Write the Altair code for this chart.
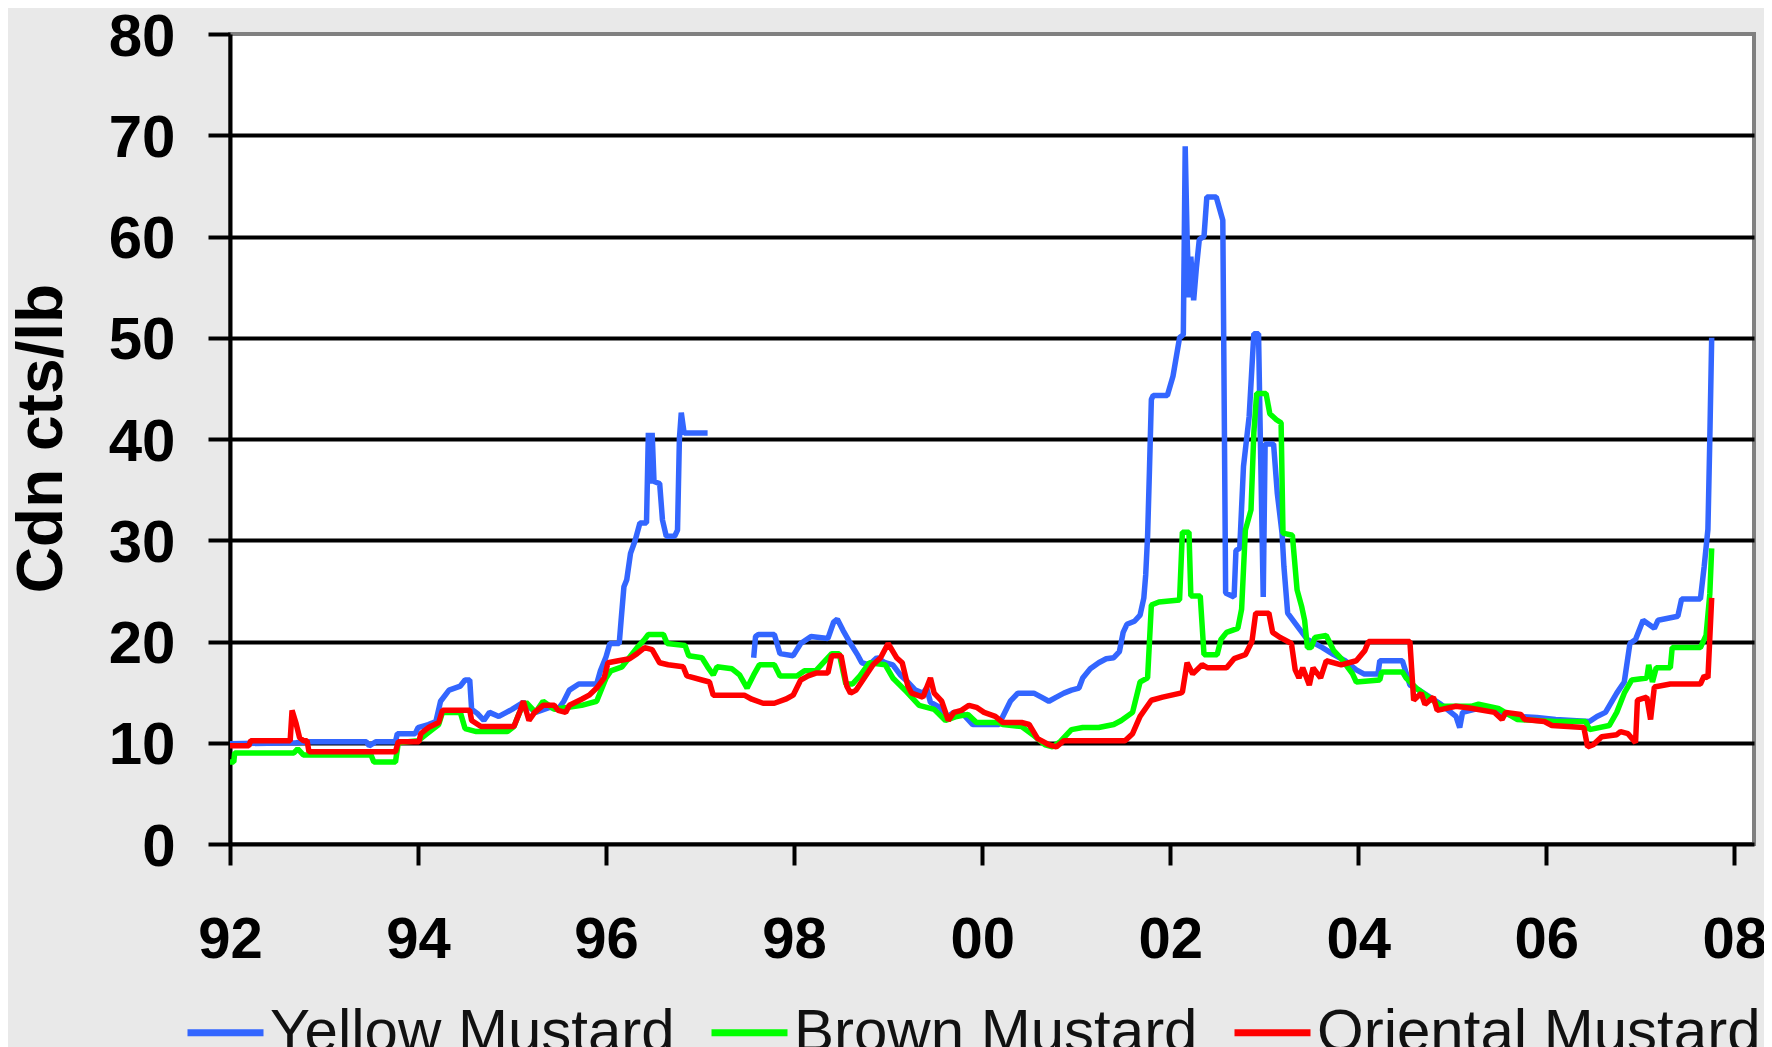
import altair as alt
import pandas as pd

# ---------------- data ----------------
series_names = ["Yellow Mustard", "Brown Mustard", "Oriental Mustard"]
series_colors = ["#3366FF", "#00FF00", "#FF0000"]

y_ticks = [0, 10, 20, 30, 40, 50, 60, 70, 80]
x_tick_years = [1992, 1994, 1996, 1998, 2000, 2002, 2004, 2006, 2008]
x_tick_labels = ["92", "94", "96", "98", "00", "02", "04", "06", "08"]

# Yellow mustard, first stretch (1992 - early 1997)
yellow_a_x = [1992.00, 1992.70, 1992.85, 1993.45, 1993.48, 1993.55, 1993.76, 1993.78, 1993.97, 1994.00,
              1994.11, 1994.19, 1994.24, 1994.33, 1994.45, 1994.50, 1994.55, 1994.57, 1994.63, 1994.70,
              1994.76, 1994.86, 1994.94, 1995.00, 1995.12, 1995.25, 1995.40, 1995.49, 1995.55, 1995.61,
              1995.71, 1995.90, 1995.94, 1996.00, 1996.04, 1996.14, 1996.16, 1996.19, 1996.22, 1996.26,
              1996.31, 1996.36, 1996.43, 1996.45, 1996.47, 1996.49, 1996.51, 1996.57, 1996.60, 1996.64,
              1996.73, 1996.76, 1996.78, 1996.80, 1996.83, 1997.08]
yellow_a_y = [9.9, 10.0, 10.1, 10.1, 9.7, 10.1, 10.1, 10.9, 10.9, 11.5,
              11.8, 12.1, 14.1, 15.2, 15.6, 16.2, 16.2, 13.3, 12.9, 12.2,
              13.0, 12.6, 13.0, 13.3, 14.0, 13.0, 13.5, 13.3, 14.1, 15.2,
              15.8, 15.8, 17.1, 18.5, 19.8, 19.8, 22.1, 25.4, 26.1, 28.7,
              30.0, 31.7, 31.7, 40.6, 35.6, 40.6, 35.8, 35.6, 32.0, 30.4,
              30.4, 31.0, 40.0, 42.6, 40.6, 40.6]

# Yellow mustard, second stretch (mid 1997 - 2007)
yellow_b_x = [1997.57, 1997.59, 1997.62, 1997.79, 1997.85, 1997.99, 1998.07, 1998.18, 1998.36, 1998.42,
              1998.46, 1998.52, 1998.60, 1998.68, 1998.72, 1998.80, 1998.88, 1998.97, 1999.05, 1999.13,
              1999.21, 1999.29, 1999.37, 1999.41, 1999.45, 1999.55, 1999.62, 1999.70, 1999.80, 1999.90,
              2000.18, 2000.22, 2000.30, 2000.38, 2000.55, 2000.63, 2000.71, 2000.79, 2000.87, 2000.95,
              2001.03, 2001.07, 2001.15, 2001.24, 2001.32, 2001.40, 2001.46, 2001.50, 2001.54, 2001.62,
              2001.68, 2001.72, 2001.74, 2001.76, 2001.78, 2001.80, 2001.82, 2001.97, 2002.03, 2002.10,
              2002.14, 2002.16, 2002.18, 2002.20, 2002.22, 2002.25, 2002.28, 2002.31, 2002.36, 2002.39,
              2002.49, 2002.53, 2002.56, 2002.59, 2002.68, 2002.70, 2002.74, 2002.78, 2002.84, 2002.89,
              2002.94, 2002.96, 2002.99, 2003.01, 2003.10, 2003.14, 2003.19, 2003.21, 2003.25, 2003.37,
              2003.46, 2003.62, 2003.74, 2003.86, 2003.98, 2004.06, 2004.21, 2004.23, 2004.47, 2004.50,
              2004.55, 2004.63, 2004.88, 2005.04, 2005.08, 2005.11, 2005.28, 2005.49, 2005.69, 2005.90,
              2006.10, 2006.46, 2006.54, 2006.63, 2006.75, 2006.83, 2006.89, 2006.95, 2007.03, 2007.15,
              2007.19, 2007.40, 2007.44, 2007.64, 2007.68, 2007.72, 2007.74, 2007.76]
yellow_b_y = [18.4, 20.5, 20.7, 20.7, 18.8, 18.6, 19.8, 20.5, 20.3, 21.9,
              22.2, 21.1, 19.8, 18.6, 17.9, 17.7, 18.4, 17.9, 17.7, 16.7,
              16.0, 15.2, 14.9, 15.4, 14.0, 13.5, 12.5, 13.0, 12.8, 11.8,
              11.8, 12.6, 14.1, 14.9, 14.9, 14.5, 14.1, 14.5, 14.9, 15.2,
              15.4, 16.4, 17.3, 17.9, 18.3, 18.4, 19.0, 20.9, 21.7, 22.0,
              22.6, 24.3, 26.6, 30.4, 37.0, 43.9, 44.3, 44.3, 46.2, 50.0,
              50.3, 68.9, 60.0, 54.0, 58.0, 53.7, 57.0, 59.7, 60.0, 63.9,
              63.9, 62.6, 61.6, 24.8, 24.4, 29.0, 29.2, 37.3, 42.2, 50.4,
              50.4, 39.6, 24.4, 39.5, 39.5, 34.6, 30.7, 27.4, 22.8, 21.3,
              20.2, 19.4, 18.7, 18.1, 17.2, 16.8, 16.8, 18.1, 18.1, 17.2,
              15.7, 15.3, 13.8, 12.6, 11.5, 13.0, 13.4, 13.0, 12.6, 12.5,
              12.3, 12.1, 12.6, 13.0, 14.9, 16.0, 19.8, 20.2, 22.1, 21.3,
              22.1, 22.5, 24.2, 24.2, 27.4, 31.1, 40.0, 50.0]

# Brown mustard
brown_x = [1992.00, 1992.04, 1992.05, 1992.68, 1992.72, 1992.78, 1993.50, 1993.53, 1993.76, 1993.79,
           1994.00, 1994.11, 1994.22, 1994.26, 1994.45, 1994.50, 1994.62, 1994.95, 1995.02, 1995.08,
           1995.15, 1995.25, 1995.33, 1995.45, 1995.60, 1995.74, 1995.90, 1996.00, 1996.05, 1996.17,
           1996.33, 1996.41, 1996.45, 1996.61, 1996.65, 1996.84, 1996.88, 1997.02, 1997.08, 1997.14,
           1997.18, 1997.34, 1997.42, 1997.50, 1997.57, 1997.63, 1997.79, 1997.85, 1998.03, 1998.11,
           1998.23, 1998.40, 1998.48, 1998.55, 1998.62, 1998.70, 1998.80, 1998.97, 1999.05, 1999.20,
           1999.33, 1999.49, 1999.61, 1999.73, 1999.85, 1999.94, 2000.18, 2000.22, 2000.42, 2000.55,
           2000.67, 2000.75, 2000.83, 2000.95, 2001.07, 2001.24, 2001.40, 2001.48, 2001.60, 2001.68,
           2001.76, 2001.80, 2001.88, 2002.10, 2002.13, 2002.20, 2002.22, 2002.32, 2002.36, 2002.50,
           2002.54, 2002.60, 2002.72, 2002.76, 2002.80, 2002.86, 2002.89, 2002.92, 2003.02, 2003.06,
           2003.13, 2003.18, 2003.20, 2003.30, 2003.35, 2003.40, 2003.43, 2003.46, 2003.50, 2003.54,
           2003.66, 2003.74, 2003.82, 2003.94, 2003.98, 2004.23, 2004.25, 2004.47, 2004.51, 2004.63,
           2004.88, 2005.20, 2005.28, 2005.49, 2005.69, 2006.10, 2006.42, 2006.46, 2006.67, 2006.75,
           2006.83, 2006.91, 2007.07, 2007.09, 2007.13, 2007.17, 2007.32, 2007.34, 2007.64, 2007.70,
           2007.74, 2007.76]
brown_y = [8.1, 8.1, 9.0, 9.0, 9.4, 8.8, 8.8, 8.1, 8.1, 10.0,
           10.2, 11.0, 11.8, 13.0, 13.0, 11.4, 11.1, 11.1, 11.6, 13.0,
           14.0, 13.0, 14.1, 13.3, 13.5, 13.7, 14.1, 16.4, 17.1, 17.5,
           19.4, 20.2, 20.7, 20.7, 19.8, 19.6, 18.6, 18.4, 17.5, 16.7,
           17.5, 17.3, 16.7, 15.4, 16.7, 17.7, 17.7, 16.6, 16.6, 17.1,
           17.1, 18.8, 18.8, 15.8, 15.8, 16.6, 17.9, 17.7, 16.4, 15.0,
           13.7, 13.3, 12.2, 12.6, 12.8, 12.0, 12.0, 11.8, 11.6, 10.7,
           9.8, 9.6, 10.1, 11.3, 11.5, 11.5, 11.8, 12.2, 13.0, 16.0,
           16.4, 23.6, 23.9, 24.1, 30.8, 30.8, 24.5, 24.5, 18.7, 18.7,
           20.2, 20.9, 21.3, 23.2, 31.0, 33.0, 40.6, 44.5, 44.5, 42.5,
           41.9, 41.6, 30.7, 30.5, 25.1, 23.4, 22.1, 19.4, 19.4, 20.4,
           20.6, 19.1, 18.3, 16.8, 16.0, 16.2, 17.0, 17.0, 16.4, 15.3,
           13.6, 13.6, 13.8, 13.4, 12.3, 12.1, 12.1, 11.3, 11.7, 13.0,
           14.9, 16.2, 16.4, 17.7, 16.0, 17.4, 17.4, 19.4, 19.4, 20.6,
           24.7, 29.2]

# Oriental mustard
oriental_x = [1992.00, 1992.20, 1992.22, 1992.64, 1992.66, 1992.70, 1992.74, 1992.78, 1992.82, 1992.84,
              1993.76, 1993.79, 1994.01, 1994.03, 1994.11, 1994.22, 1994.26, 1994.55, 1994.57, 1994.67,
              1995.02, 1995.08, 1995.12, 1995.18, 1995.24, 1995.33, 1995.45, 1995.49, 1995.57, 1995.61,
              1995.74, 1995.82, 1995.90, 1995.98, 1996.02, 1996.13, 1996.25, 1996.33, 1996.41, 1996.49,
              1996.57, 1996.66, 1996.82, 1996.86, 1997.02, 1997.10, 1997.14, 1997.47, 1997.55, 1997.67,
              1997.79, 1997.91, 1997.99, 1998.07, 1998.15, 1998.24, 1998.36, 1998.40, 1998.50, 1998.56,
              1998.60, 1998.66, 1998.76, 1998.84, 1998.92, 1999.00, 1999.09, 1999.15, 1999.21, 1999.25,
              1999.37, 1999.45, 1999.49, 1999.57, 1999.64, 1999.70, 1999.78, 1999.86, 1999.94, 2000.02,
              2000.14, 2000.22, 2000.42, 2000.50, 2000.59, 2000.71, 2000.79, 2000.87, 2001.52, 2001.60,
              2001.68, 2001.80, 2001.92, 2002.11, 2002.13, 2002.18, 2002.24, 2002.34, 2002.40, 2002.60,
              2002.68, 2002.80, 2002.87, 2002.91, 2003.05, 2003.09, 2003.17, 2003.29, 2003.33, 2003.37,
              2003.41, 2003.48, 2003.52, 2003.60, 2003.66, 2003.82, 2003.90, 2003.98, 2004.07, 2004.11,
              2004.55, 2004.59, 2004.67, 2004.71, 2004.80, 2004.84, 2005.04, 2005.20, 2005.45, 2005.53,
              2005.57, 2005.73, 2005.77, 2005.98, 2006.06, 2006.40, 2006.44, 2006.50, 2006.59, 2006.75,
              2006.79, 2006.87, 2006.95, 2006.97, 2007.07, 2007.11, 2007.15, 2007.32, 2007.64, 2007.68,
              2007.72, 2007.76]
oriental_y = [9.7, 9.7, 10.2, 10.2, 13.2, 12.0, 10.5, 10.2, 10.2, 9.1,
              9.1, 10.1, 10.1, 10.9, 11.5, 12.0, 13.2, 13.2, 12.2, 11.6,
              11.6, 13.0, 14.1, 12.2, 13.0, 13.7, 13.7, 13.2, 13.0, 13.7,
              14.3, 14.7, 15.4, 16.4, 17.9, 18.1, 18.3, 18.8, 19.4, 19.2,
              17.9, 17.7, 17.5, 16.6, 16.2, 16.0, 14.7, 14.7, 14.3, 13.9,
              13.9, 14.3, 14.7, 16.2, 16.6, 16.9, 16.9, 18.6, 18.6, 15.6,
              14.9, 15.2, 16.6, 17.7, 18.4, 19.8, 18.4, 17.9, 15.6, 14.9,
              14.5, 16.4, 14.9, 14.1, 12.2, 13.0, 13.2, 13.7, 13.5, 13.0,
              12.6, 12.0, 12.0, 11.8, 10.4, 9.8, 9.6, 10.2, 10.2, 10.9,
              12.6, 14.2, 14.5, 14.9, 15.0, 17.9, 16.8, 17.7, 17.4, 17.4,
              18.3, 18.7, 20.0, 22.8, 22.8, 20.9, 20.4, 19.8, 17.2, 16.4,
              17.4, 15.7, 17.4, 16.4, 18.1, 17.7, 17.9, 18.1, 19.1, 20.0,
              20.0, 14.2, 14.9, 13.8, 14.5, 13.2, 13.6, 13.4, 13.0, 12.3,
              13.0, 12.8, 12.3, 12.1, 11.7, 11.5, 9.6, 9.8, 10.6, 10.8,
              11.1, 10.9, 10.0, 14.2, 14.5, 12.3, 15.5, 15.8, 15.8, 16.6,
              16.4, 24.3]


def frame(xs, ys, name, seg):
    return pd.DataFrame({"year": xs, "value": ys, "series": name, "seg": seg})


yellow_df = pd.concat([frame(yellow_a_x, yellow_a_y, series_names[0], "a"),
                       frame(yellow_b_x, yellow_b_y, series_names[0], "b")], ignore_index=True)
brown_df = frame(brown_x, brown_y, series_names[1], "a")
oriental_df = frame(oriental_x, oriental_y, series_names[2], "a")

FONT = "Liberation Sans"

label_expr = " : ".join(
    f"datum.value == {yr} ? '{lab}'" for yr, lab in zip(x_tick_years, x_tick_labels)
) + " : ''"

x_enc = alt.X(
    "year:Q",
    scale=alt.Scale(domain=[1992, 2008.21], nice=False, zero=False),
    axis=alt.Axis(
        values=x_tick_years, labelExpr=label_expr, title=None, grid=False,
        labelFlush=False, tickSize=21, labelPadding=46, labelFontSize=58,
        labelFontWeight="bold", labelFont=FONT, labelColor="black",
    ),
)
y_enc = alt.Y(
    "value:Q",
    scale=alt.Scale(domain=[0, 80], nice=False, zero=True),
    axis=alt.Axis(
        values=y_ticks, title="Cdn cts/lb", grid=True,
        gridOpacity={"condition": {"test": "datum.value >= 80 || datum.value <= 0", "value": 0}, "value": 1},
        tickSize=22, labelPadding=33, labelOffset=3, labelFontSize=60, labelFontWeight="bold",
        labelFont=FONT, labelColor="black",
        titleFont=FONT, titleFontSize=64, titleFontWeight="bold", titleColor="black",
        titleAngle=270, titleX=-188, titleY=404, titleAlign="center", titleBaseline="middle",
    ),
)
color_enc = alt.Color(
    "series:N",
    scale=alt.Scale(domain=series_names, range=series_colors),
    legend=alt.Legend(
        orient="none", legendX=-46, legendY=957, direction="horizontal", title=None,
        symbolType="stroke", symbolSize=5776, symbolStrokeWidth=7,
        labelFontSize=60, labelFont=FONT, labelColor="#111111", labelOffset=3,
        columnPadding=22, padding=0, labelLimit=0,
    ),
)


def line_layer(df):
    return alt.Chart(df).mark_line(strokeWidth=5.5, strokeJoin="bevel").encode(
        x=x_enc, y=y_enc, color=color_enc, detail="seg:N"
    )


chart = alt.layer(
    line_layer(yellow_df), line_layer(brown_df), line_layer(oriental_df)
).properties(
    width=1524, height=810,
    padding={"left": 222, "top": 26, "right": 10, "bottom": 203},
    autosize=alt.AutoSizeParams(type="none"),
).configure(
    background="#E9E9E9",
).configure_view(
    fill="white", stroke="#808080", strokeWidth=4,
).configure_axis(
    domainColor="black", domainWidth=4, tickColor="black", tickWidth=4,
    gridColor="black", gridWidth=4,
)

chart.save("out.html", embed_options={"renderer": "svg", "actions": False})
